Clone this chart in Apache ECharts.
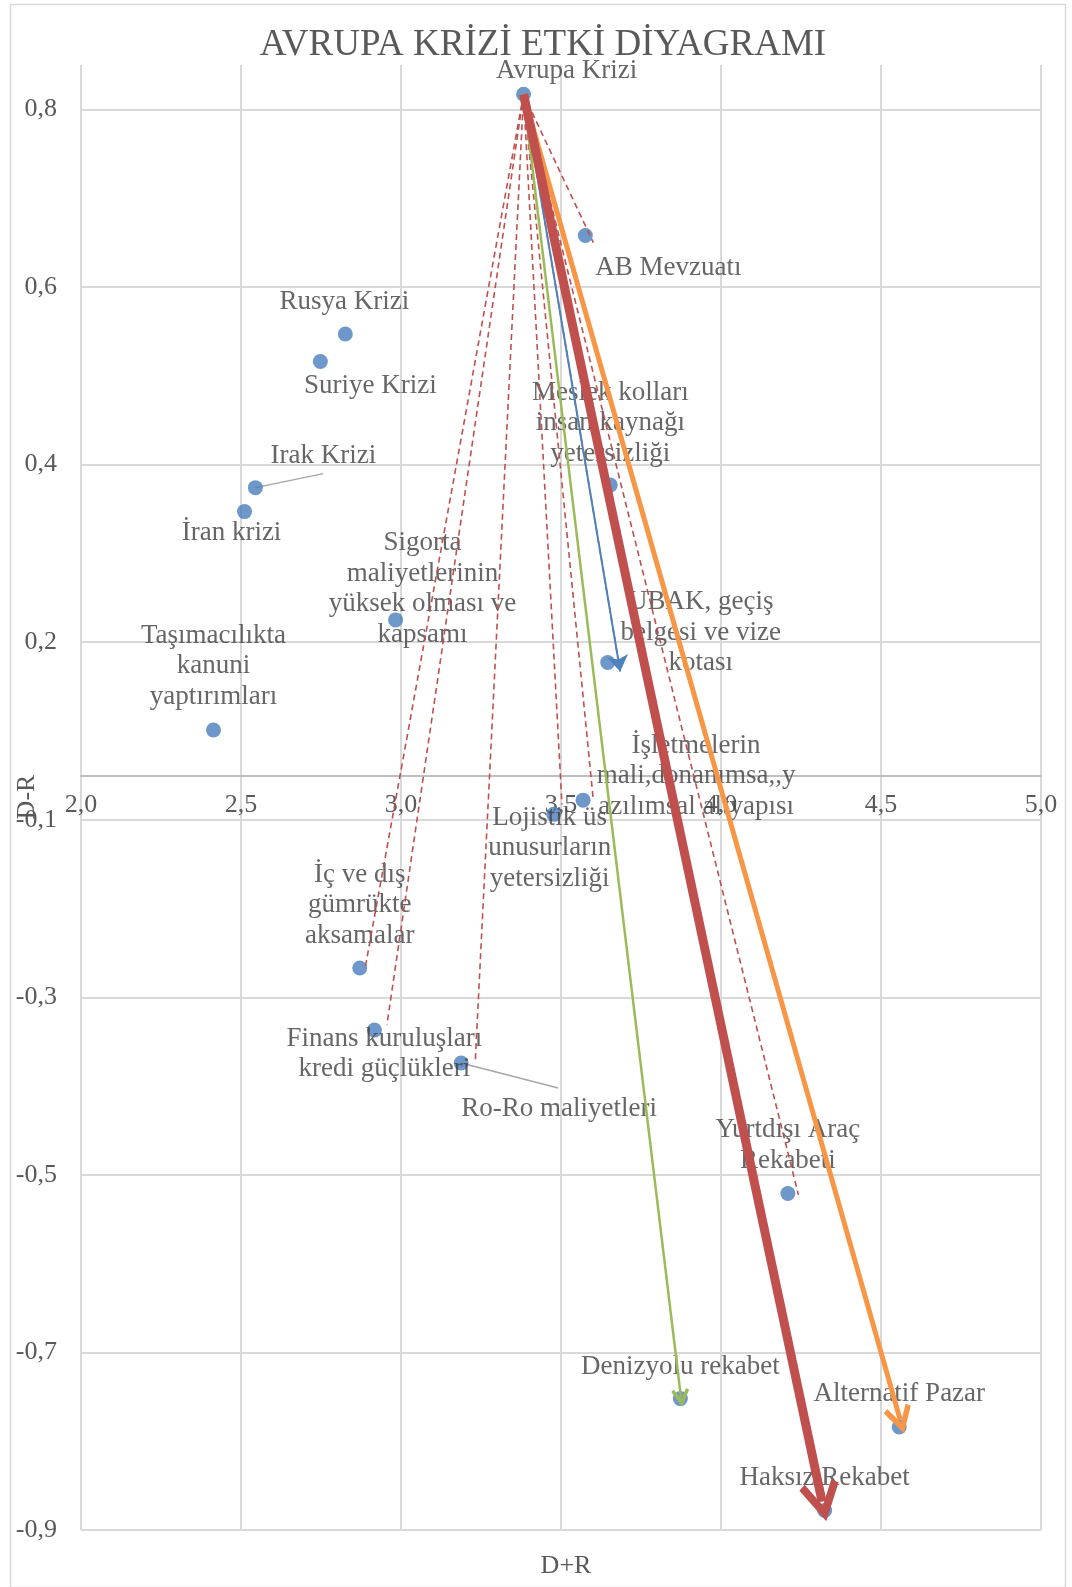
<!DOCTYPE html>
<html>
<head>
<meta charset="utf-8">
<script src="https://cdn.jsdelivr.net/npm/echarts@6/dist/echarts.min.js"></script>
<style>
  html, body { margin: 0; padding: 0; background: #ffffff; }
  #chart { width: 1072px; height: 1587px; }
</style>
</head>
<body>
<div id="chart"></div>
<script>
// ---------------- DATA ----------------
const chartTitle = 'AVRUPA KRİZİ ETKİ DİYAGRAMI';
const xAxisTitle = 'D+R';
const yAxisTitle = 'D-R';

const pointNames = [
  'Avrupa Krizi',
  'AB Mevzuatı',
  'Rusya Krizi',
  'Suriye Krizi',
  'Irak Krizi',
  'İran krizi',
  'Taşımacılıkta\nkanuni\nyaptırımları',
  'Sigorta\nmaliyetlerinin\nyüksek olması ve\nkapsamı',
  'Meslek kolları\ninsan kaynağı\nyetersizliği',
  'UBAK, geçiş\nbelgesi ve vize\nkotası',
  'İşletmelerin\nmali,donanımsa,,y\nazılımsal altyapısı',
  'Lojistik üs\nunusurların\nyetersizliği',
  'İç ve dış\ngümrükte\naksamalar',
  'Finans kuruluşları\nkredi güçlükleri',
  'Ro-Ro maliyetleri',
  'Yurtdışı Araç\nRekabeti',
  'Denizyolu rekabet',
  'Alternatif Pazar',
  'Haksız Rekabet'
];
const dPlusR  = [3.383, 3.576, 2.826, 2.748, 2.545, 2.511, 2.414, 2.983, 3.654, 3.646, 3.569, 3.477, 2.871, 2.917, 3.188, 4.209, 3.873, 4.557, 4.324];
const dMinusR = [0.767, 0.608, 0.497, 0.466, 0.324, 0.297, 0.051, 0.175, 0.327, 0.127, -0.028, -0.044, -0.217, -0.287, -0.324, -0.471, -0.702, -0.734, -0.828];

// influence links from "Avrupa Krizi" (index 0) to targets, with read end points
const linkFrom  = 0;
const linkTo    = [1, 12, 13, 14, 11, 10, 15, 9, 9, 16, 18, 17];
const linkEndX  = [3.601, 2.888, 2.956, 3.232, 3.503, 3.601, 4.242, 3.685, 3.685, 3.875, 4.316, 4.560];
const linkEndY  = [0.600, -0.217, -0.281, -0.323, -0.033, -0.028, -0.4725, 0.117, 0.117, -0.701, -0.818, -0.726];

const xTickValues = [2.0, 2.5, 3.0, 3.5, 4.0, 4.5, 5.0];
const xTickLabels = ['2,0', '2,5', '3,0', '3,5', '4,0', '4,5', '5,0'];
const yTickValues = [-0.85, -0.65, -0.45, -0.25, -0.05, 0.15, 0.35, 0.55, 0.75];
const yTickLabels = ['-0,9', '-0,7', '-0,5', '-0,3', '-0,1', '0,2', '0,4', '0,6', '0,8'];

// ---------------- PRESENTATION ----------------
const FONT = '"Liberation Serif", "Times New Roman", serif';
const LABEL_SIZE = 27;
const labelOffsets = [
  [43, -23], [83, 32], [-1, -32], [50, 24], [68, -32], [-13, 21], [0, -64],
  [27, -31], [0, -62], [93, -30], [113, -24], [-4, 34], [0, -63], [10, 24],
  [98, 46], [0, -48], [0, -32], [0, -33], [0, -33]
];
// leader lines: point index and pixel offset of the label-side end
const leaderLines = [
  { idx: 4, dx: 68, dy: -14 },
  { idx: 14, dx: 97, dy: 25 }
];

// link groups by index into link arrays
const dashedLinks = [0, 1, 2, 3, 4, 5, 6, 7];
const blueLinks = [8];
const greenLinks = [9];
const redLinks = [10];
const orangeLinks = [11];

function linkCoords(i) {
  return [[dPlusR[linkFrom], dMinusR[linkFrom]], [linkEndX[i], linkEndY[i]]];
}
const chevron = 'path://M50,0 L100,88 L84,100 L50,40 L16,100 L0,88 Z';

function arrowSeries(idxs, color, width, symbol, size, dashed) {
  return {
    type: 'lines',
    coordinateSystem: 'cartesian2d',
    z: 5,
    silent: true,
    symbol: symbol ? ['none', symbol] : ['none', 'none'],
    symbolSize: size || 10,
    symbolOffset: symbol ? [0, (Array.isArray(size) ? size[1] : size) / 2] : 0,
    lineStyle: {
      color: color,
      width: width,
      type: dashed ? [6, 4] : 'solid',
      opacity: 1,
      curveness: 0
    },
    data: idxs.map(i => ({ coords: linkCoords(i) }))
  };
}

const scatterData = pointNames.map((n, i) => ({ name: n, value: [dPlusR[i], dMinusR[i]] }));

const chart = echarts.init(document.getElementById('chart'), null, { renderer: 'canvas' });

const baseGraphics = [
  {
    type: 'rect',
    left: 8, top: 2,
    shape: { width: 1055, height: 1583 },
    style: { fill: 'none', stroke: '#d9d9d9', lineWidth: 1.5 },
    silent: true, z: -10
  },
  {
    type: 'text',
    x: 27, y: 797,
    rotation: Math.PI / 2,
    style: {
      text: yAxisTitle,
      font: '26px ' + FONT,
      fill: '#595959',
      align: 'center',
      verticalAlign: 'middle'
    },
    silent: true, z: 10
  }
];

const option = {
  backgroundColor: '#ffffff',
  animation: false,
  textStyle: { fontFamily: FONT },
  title: [
    {
      text: chartTitle,
      left: 538,
      top: 22,
      textAlign: 'center',
      textStyle: { fontFamily: FONT, fontSize: 37, fontWeight: 'normal', color: '#595959' }
    },
    {
      text: xAxisTitle,
      left: 561,
      top: 1548,
      textAlign: 'center',
      textStyle: { fontFamily: FONT, fontSize: 26, fontWeight: 'normal', color: '#595959' }
    }
  ],
  graphic: baseGraphics,
  grid: { left: 81, right: 31, top: 65, bottom: 57, containLabel: false, outerBoundsMode: 'none' },
  xAxis: {
    type: 'value',
    min: 2,
    max: 5,
    interval: 0.5,
    position: 'bottom',
    offset: 0,
    axisLine: { show: true, onZero: false, lineStyle: { color: '#bfbfbf', width: 2 } },
    axisTick: { show: false },
    axisLabel: {
      margin: 17,
      fontFamily: FONT,
      fontSize: 26,
      color: '#595959',
      formatter: v => {
        const k = xTickValues.findIndex(t => Math.abs(t - v) < 1e-6);
        return k >= 0 ? xTickLabels[k] : '';
      }
    },
    splitLine: { show: true, lineStyle: { color: '#d9d9d9', width: 2 } }
  },
  yAxis: {
    type: 'value',
    min: -0.85,
    max: 0.8,
    interval: 0.2,
    axisLine: { show: false },
    axisTick: { show: false },
    axisLabel: {
      margin: 24,
      fontFamily: FONT,
      fontSize: 26,
      color: '#595959',
      showMaxLabel: false,
      formatter: v => {
        const k = yTickValues.findIndex(t => Math.abs(t - v) < 1e-6);
        return k >= 0 ? yTickLabels[k] : '';
      }
    },
    splitLine: { show: true, showMaxLine: false, lineStyle: { color: '#d9d9d9', width: 2 } }
  },
  series: [
    {
      type: 'scatter',
      z: 2,
      symbol: 'circle',
      symbolSize: 15,
      itemStyle: { color: '#4a7ebb' },
      label: {
        show: true,
        position: 'inside',
        formatter: p => p.name,
        fontFamily: FONT,
        fontSize: LABEL_SIZE,
        lineHeight: 30.5,
        color: '#404040',
        align: 'center',
        verticalAlign: 'middle'
      },
      labelLayout: p => {
        const o = labelOffsets[p.dataIndex];
        return { dx: o[0], dy: o[1] };
      },
      data: scatterData
    },
    arrowSeries(dashedLinks, '#c0504d', 1.6, null, 0, true),
    arrowSeries(blueLinks, '#4f81bd', 2, 'arrow', [12, 16], false),
    arrowSeries(greenLinks, '#9bbb59', 2.5, chevron, [18, 18], false),
    arrowSeries(orangeLinks, '#f79646', 5, chevron, [26, 28], false),
    arrowSeries(redLinks, '#c0504d', 9, chevron, [36, 40], false)
  ]
};
chart.setOption(option);

// move the x axis (line + labels) up so it crosses the y axis at zero
const yZero = chart.convertToPixel({ yAxisIndex: 0 }, 0);
const yBottom = chart.convertToPixel({ yAxisIndex: 0 }, -0.85);

// leader lines from data points to their moved labels
const leaderGraphics = leaderLines.map(l => {
  const p = chart.convertToPixel({ gridIndex: 0 }, [dPlusR[l.idx], dMinusR[l.idx]]);
  return {
    type: 'line',
    shape: { x1: p[0], y1: p[1], x2: p[0] + l.dx, y2: p[1] + l.dy },
    style: { stroke: '#a6a6a6', lineWidth: 1.5 },
    silent: true, z: 1
  };
});

chart.setOption({
  xAxis: { offset: yZero - yBottom },
  graphic: baseGraphics.concat(leaderGraphics)
});
</script>
</body>
</html>
